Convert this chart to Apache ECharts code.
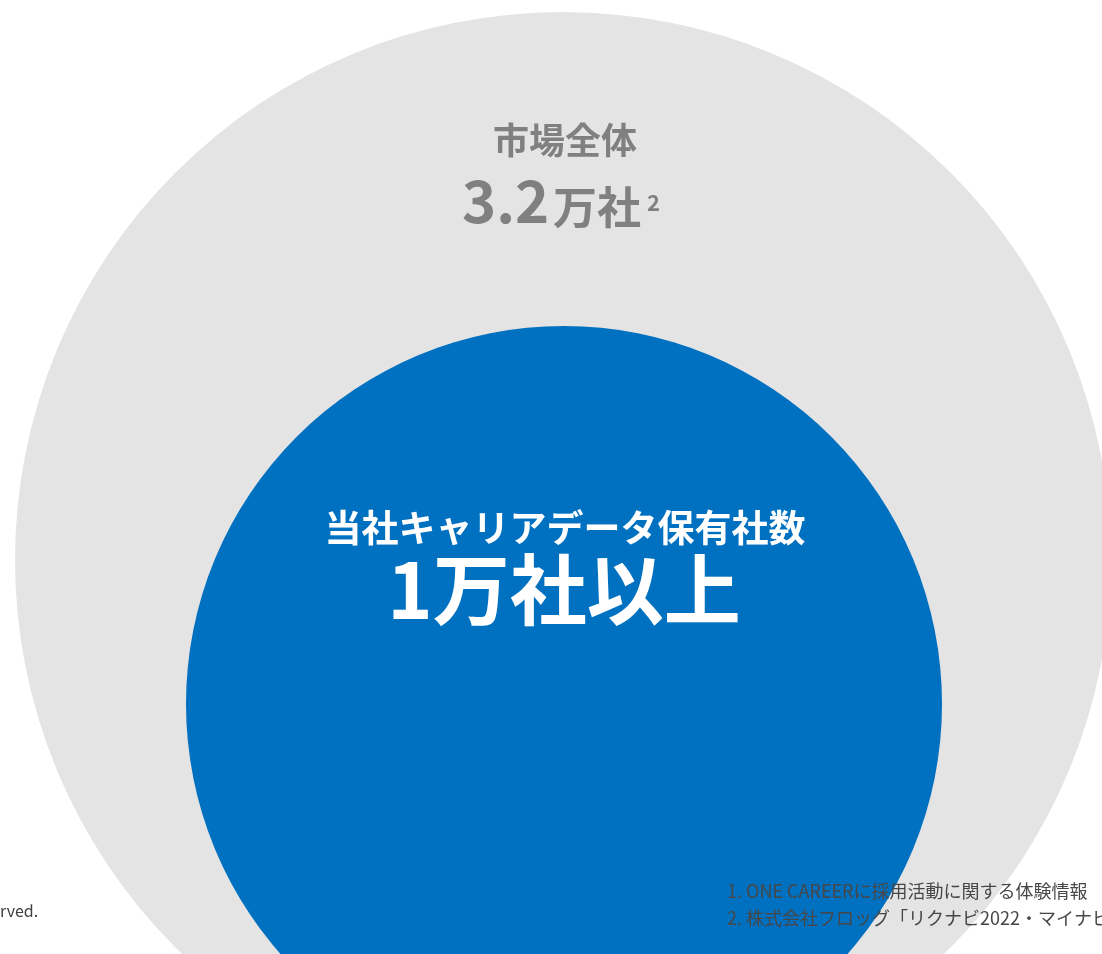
<!DOCTYPE html>
<html><head><meta charset="utf-8">
<script src="https://cdn.jsdelivr.net/npm/echarts@6/dist/echarts.min.js"></script>
<style>html,body{margin:0;padding:0;background:#fff;}#c{width:1102px;height:954px;}</style>
</head><body><div id="c"></div>
<script>
const categories = ['市場全体', '当社キャリアデータ保有社数'];
const values = [3.2, 1];
const valueLabels = ['3.2', '1'];
const unitLabels = ['万社', '万社以上'];
const footnotes = ['1. ONE CAREERに採用活動に関する体験情報', '2. 株式会社フロッグ「リクナビ2022・マイナビ'];
const copyrightTail = 'rved.';

const FONT = '"Noto Sans CJK JP", "Noto Sans", sans-serif';
const GRAY = '#808080';
const chart = echarts.init(document.getElementById('c'), null, {renderer: 'canvas'});
chart.setOption({
  animation: false,
  series: [
    {
      type: 'pie', silent: true, center: [563, 560], radius: [0, 548],
      label: {show: false}, labelLine: {show: false},
      itemStyle: {color: '#e4e4e4'},
      data: [{name: categories[0], value: values[0]}]
    },
    {
      type: 'pie', silent: true, center: [564, 704], radius: [0, 378],
      label: {show: false}, labelLine: {show: false},
      itemStyle: {color: '#0070c0'},
      data: [{name: categories[1], value: values[1]}]
    }
  ],
  graphic: [
    {type: 'text', x: 565, y: 122, z: 10, style: {text: categories[0], font: 'bold 36px ' + FONT, fill: GRAY, align: 'center', verticalAlign: 'top'}},
    {type: 'text', x: 462, y: 172, z: 10, style: {text: valueLabels[0], font: 'bold 58px ' + FONT, fill: GRAY, align: 'left', verticalAlign: 'top'}},
    {type: 'text', x: 553, y: 185, z: 10, style: {text: unitLabels[0], font: 'bold 44px ' + FONT, fill: GRAY, align: 'left', verticalAlign: 'top'}},
    {type: 'text', x: 647, y: 192, z: 10, style: {text: '2', font: 'bold 22px ' + FONT, fill: GRAY, align: 'left', verticalAlign: 'top'}},
    {type: 'text', x: 565, y: 509, z: 10, style: {text: categories[1], font: 'bold 37px ' + FONT, fill: '#ffffff', align: 'center', verticalAlign: 'top'}},
    {type: 'text', x: 564, y: 551, z: 10, style: {text: valueLabels[1] + unitLabels[1], font: 'bold 77px ' + FONT, fill: '#ffffff', align: 'center', verticalAlign: 'top'}},
    {type: 'text', x: 727, y: 891, z: 10, style: {text: footnotes[0], font: '18px ' + FONT, fill: '#474747', align: 'left', verticalAlign: 'middle'}},
    {type: 'text', x: 727, y: 918, z: 10, style: {text: footnotes[1], font: '18px ' + FONT, fill: '#474747', align: 'left', verticalAlign: 'middle'}},
    {type: 'text', x: 0, y: 911, z: 10, style: {text: copyrightTail, font: '16px ' + FONT, fill: '#404040', align: 'left', verticalAlign: 'middle'}}
  ]
});
</script></body></html>
